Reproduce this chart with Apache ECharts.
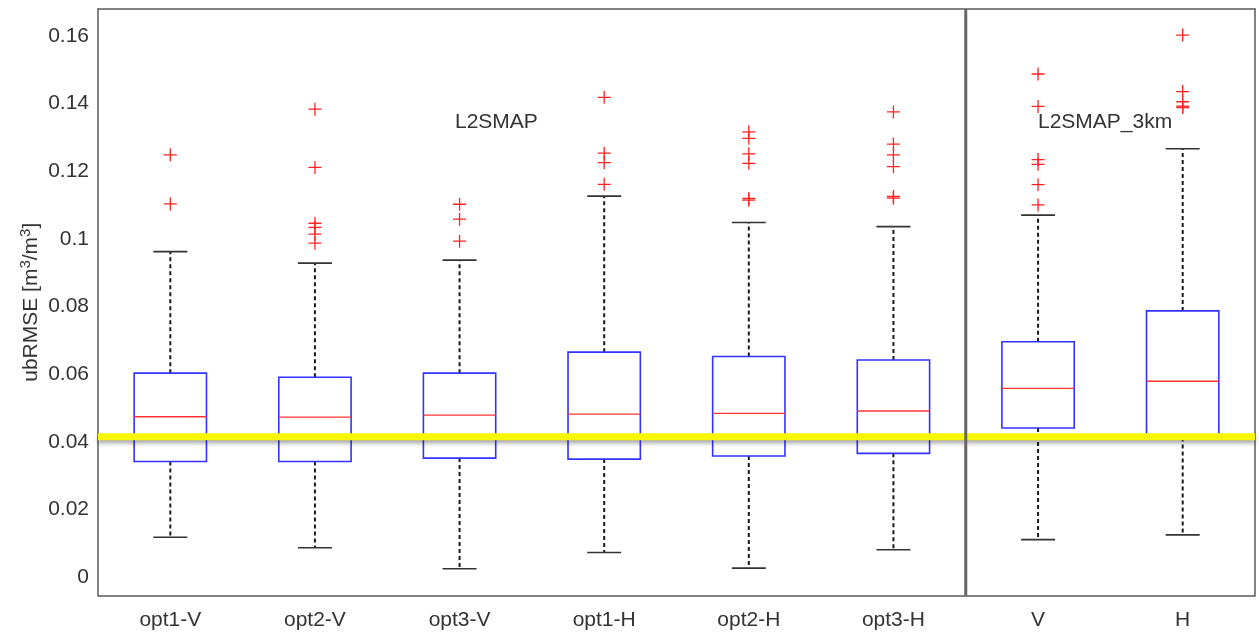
<!DOCTYPE html>
<html>
<head>
<meta charset="utf-8">
<script src="https://cdn.jsdelivr.net/npm/echarts@6/dist/echarts.min.js"></script>
<style>
html,body{margin:0;padding:0;background:#fff;}
#chart{width:1259px;height:636px;}
</style>
</head>
<body>
<div id="chart"></div>
<script>
// ---- data ----
const categories = ['opt1-V','opt2-V','opt3-V','opt1-H','opt2-H','opt3-H','V','H'];
const lowWhisker  = [0.0118, 0.0087, 0.0025, 0.0073, 0.0027, 0.0081, 0.0111, 0.0125];
const q1          = [0.0342, 0.0342, 0.0352, 0.0349, 0.0358, 0.0366, 0.0441, 0.0413];
const median      = [0.0474, 0.0473, 0.0479, 0.0482, 0.0484, 0.0491, 0.0558, 0.0579];
const q3          = [0.0603, 0.0591, 0.0603, 0.0665, 0.0652, 0.0642, 0.0696, 0.0787];
const highWhisker = [0.0962, 0.0928, 0.0937, 0.1126, 0.1048, 0.1036, 0.1070, 0.1266];

const outOpt1V = [0.1248, 0.1103];
const outOpt2V = [0.1383, 0.1211, 0.1046, 0.1034, 0.1014, 0.0987];
const outOpt3V = [0.1102, 0.1058, 0.0993];
const outOpt1H = [0.1418, 0.1253, 0.1225, 0.1161];
const outOpt2H = [0.1316, 0.1297, 0.1251, 0.1223, 0.1119, 0.1114];
const outOpt3H = [0.1375, 0.1280, 0.1248, 0.1213, 0.1125, 0.1120];
const outV     = [0.1487, 0.1391, 0.1234, 0.1220, 0.1160, 0.1100];
const outH     = [0.1602, 0.1435, 0.1405, 0.1392, 0.1388];
const outliers = [outOpt1V, outOpt2V, outOpt3V, outOpt1H, outOpt2H, outOpt3H, outV, outH];

const yTickValues = [0, 0.02, 0.04, 0.06, 0.08, 0.1, 0.12, 0.14, 0.16];
const yTickLabels = ['0', '0.02', '0.04', '0.06', '0.08', '0.1', '0.12', '0.14', '0.16'];
const yMin = -0.0054, yMax = 0.1679;
const refLine = 0.0415;
const separatorAfter = 5;   // vertical divider between opt3-H and V
const groupLabels = ['L2SMAP', 'L2SMAP_3km'];

// ---- build ----
const FONT = "'Liberation Sans', Arial, sans-serif";
const TXT = '#333333';
const AX = '#5a5a5a';

const boxData = categories.map((c, i) => [i, lowWhisker[i], q1[i], median[i], q3[i], highWhisker[i]]);
const outlierData = [];
outliers.forEach((arr, i) => arr.forEach(v => outlierData.push([i, v])));

function renderBox(params, api) {
  const idx = api.value(0);
  const pLow = api.coord([idx, api.value(1)]);
  const pQ1 = api.coord([idx, api.value(2)]);
  const pMed = api.coord([idx, api.value(3)]);
  const pQ3 = api.coord([idx, api.value(4)]);
  const pHigh = api.coord([idx, api.value(5)]);
  const band = api.size([1, 0])[0];
  const bw = band * 0.5, cw = band * 0.235;
  const x = pLow[0];
  const dash = {stroke: '#1a1a1a', lineWidth: 2, lineDash: [4, 3], fill: null};
  const cap = {stroke: '#333333', lineWidth: 1.6, fill: null};
  return {
    type: 'group',
    children: [
      {type: 'line', shape: {x1: x, y1: pQ3[1], x2: x, y2: pHigh[1]}, style: dash},
      {type: 'line', shape: {x1: x, y1: pQ1[1], x2: x, y2: pLow[1]}, style: dash},
      {type: 'line', shape: {x1: x - cw / 2, y1: pHigh[1], x2: x + cw / 2, y2: pHigh[1]}, style: cap},
      {type: 'line', shape: {x1: x - cw / 2, y1: pLow[1], x2: x + cw / 2, y2: pLow[1]}, style: cap},
      {type: 'rect', shape: {x: x - bw / 2, y: pQ3[1], width: bw, height: pQ1[1] - pQ3[1]},
        style: {fill: null, stroke: '#3333ff', lineWidth: 1.6}},
      {type: 'line', shape: {x1: x - bw / 2, y1: pMed[1], x2: x + bw / 2, y2: pMed[1]},
        style: {stroke: '#ff3333', lineWidth: 1.4, fill: null}}
    ]
  };
}

function renderSeparator(params, api) {
  const cs = params.coordSys;
  const idx = api.value(0);
  const x = api.coord([idx, 0])[0] + api.size([1, 0])[0] / 2;
  return {type: 'line', shape: {x1: x, y1: cs.y, x2: x, y2: cs.y + cs.height},
    style: {stroke: '#666666', lineWidth: 3}};
}

function renderRefLine(params, api) {
  const cs = params.coordSys;
  const y = api.coord([0, api.value(1)])[1];
  return {type: 'line', shape: {x1: cs.x, y1: y, x2: cs.x + cs.width, y2: y},
    style: {stroke: '#f7f700', lineWidth: 7, shadowColor: 'rgba(0,0,0,0.35)', shadowBlur: 4, shadowOffsetY: 3}};
}

const yFormatter = v => {
  for (let k = 0; k < yTickValues.length; k++) {
    if (Math.abs(v - yTickValues[k]) < 1e-9) return yTickLabels[k];
  }
  return '';
};

const chart = echarts.init(document.getElementById('chart'), null, {renderer: 'canvas'});
chart.setOption({
  animation: false,
  backgroundColor: '#ffffff',
  grid: {left: 98, right: 4, top: 9, bottom: 40.5, containLabel: false},
  xAxis: [
    {type: 'category', data: categories, position: 'bottom',
      axisLine: {onZero: false, lineStyle: {color: AX, width: 1.5}},
      axisTick: {inside: true, alignWithLabel: true, length: 10, lineStyle: {color: AX, width: 1.5}},
      axisLabel: {color: TXT, fontSize: 21, fontFamily: FONT, margin: 14, interval: 0},
      splitLine: {show: false}},
    {type: 'category', data: categories, position: 'top',
      axisLine: {onZero: false, lineStyle: {color: AX, width: 1.5}},
      axisTick: {inside: true, alignWithLabel: true, length: 10, lineStyle: {color: AX, width: 1.5}},
      axisLabel: {show: false}, splitLine: {show: false}}
  ],
  yAxis: [
    {type: 'value', min: yMin, max: yMax, position: 'left', splitNumber: 8,
      axisLine: {show: true, onZero: false, lineStyle: {color: AX, width: 1.5}},
      axisTick: {inside: true, length: 10, lineStyle: {color: AX, width: 1.5}},
      axisLabel: {color: TXT, fontSize: 21, fontFamily: FONT, margin: 9, formatter: yFormatter,
        showMinLabel: false, showMaxLabel: false},
      splitLine: {show: false},
      name: 'ubRMSE [m{sup|3}/m{sup|3}]',
      nameLocation: 'middle', nameRotate: 90, nameGap: 54, nameMoveOverlap: false,
      nameTextStyle: {color: TXT, fontSize: 21, fontFamily: FONT, lineHeight: 26,
        rich: {sup: {fontSize: 15, fontFamily: FONT, color: TXT, verticalAlign: 'top', lineHeight: 15}}}},
    {type: 'value', min: yMin, max: yMax, position: 'right', splitNumber: 8,
      axisLine: {show: true, onZero: false, lineStyle: {color: AX, width: 1.5}},
      axisTick: {inside: true, length: 10, lineStyle: {color: AX, width: 1.5}},
      axisLabel: {show: false}, splitLine: {show: false}}
  ],
  graphic: [
    {type: 'text', left: 455, top: 112, z: 50,
      style: {text: groupLabels[0], fill: TXT, font: "21px 'Liberation Sans', Arial, sans-serif"}},
    {type: 'text', left: 1038, top: 112, z: 50,
      style: {text: groupLabels[1], fill: TXT, font: "21px 'Liberation Sans', Arial, sans-serif"}}
  ],
  series: [
    {type: 'custom', name: 'box', xAxisIndex: 0, yAxisIndex: 0, renderItem: renderBox,
      data: boxData, encode: {x: 0, y: [1, 2, 3, 4, 5]}, z: 2, silent: true},
    {type: 'scatter', name: 'outliers', xAxisIndex: 0, yAxisIndex: 0, data: outlierData,
      symbol: 'path://M4.5,0h1v4.5h4.5v1h-4.5v4.5h-1v-4.5h-4.5v-1h4.5z', symbolSize: 13,
      itemStyle: {color: '#ff2222', opacity: 1}, z: 3, silent: true},
    {type: 'custom', name: 'reference', xAxisIndex: 0, yAxisIndex: 0, renderItem: renderRefLine,
      data: [[0, refLine]], encode: {x: 0, y: 1}, z: 10, silent: true},
    {type: 'custom', name: 'separator', xAxisIndex: 0, yAxisIndex: 0, renderItem: renderSeparator,
      data: [[separatorAfter, 0]], encode: {x: 0, y: 1}, z: 20, silent: true}
  ]
});
</script>
</body>
</html>
